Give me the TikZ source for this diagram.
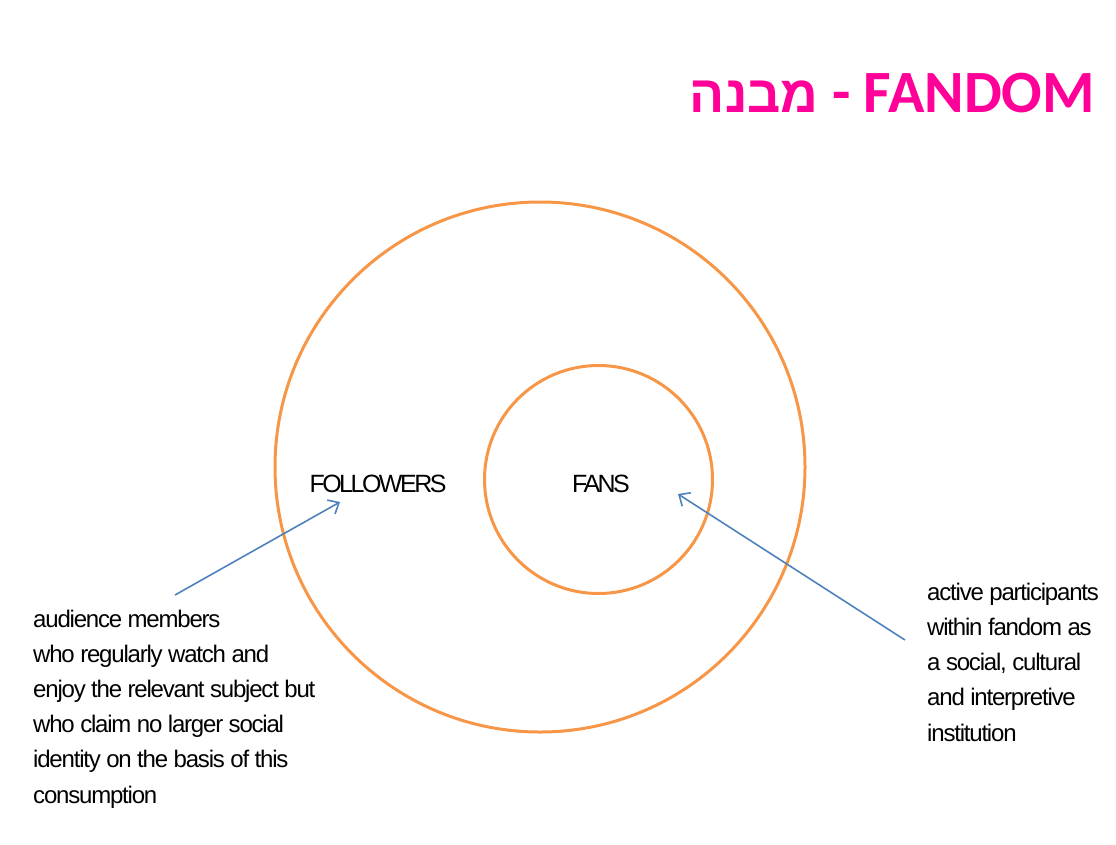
\documentclass[tikz,border=0pt]{standalone}
\usepackage{fontspec}
\setmainfont{Liberation Sans}[LetterSpace=-5]
\newfontfamily\labelfont{Liberation Sans}[LetterSpace=-10]
\newfontfamily\titlefont{Carlito}
\newfontfamily\hebfont[Script=Hebrew]{Liberation Sans}
\TeXXeTstate=1
\usetikzlibrary{positioning, arrows.meta}
\definecolor{ringorange}{HTML}{F79646}
\definecolor{pointblue}{HTML}{4F81BD}
\definecolor{titlepink}{HTML}{FF0099}
\tikzset{x=1pt,y=-1pt,
ring/.style={circle, draw=ringorange, line width=3pt, inner sep=0pt},
pointer/.style={-{Straight Barb[length=9pt,width=16pt]}, draw=pointblue, line width=1.6pt},
label/.style={inner sep=0pt, anchor=base, font=\labelfont\fontsize{25}{30}\selectfont},
note/.style={inner sep=0pt, align=left, anchor=base west, font=\fontsize{24}{35.2}\selectfont}}

\begin{document}
\begin{tikzpicture}
\useasboundingbox (0,0) rectangle (1116,844);
\node[anchor=base east, text=titlepink, inner sep=0pt, font=\fontsize{60}{72}\selectfont\bfseries] (title) at (1095,112)
  {{\hebfont\fontsize{52}{60}\selectfont\beginR מבנה\endR}\titlefont{} - FANDOM};
\node[ring, minimum size=530pt] (outer) at (540,467) {};
\node[ring, minimum size=228pt] (inner) at (598.5,479.5) {};
\node[label] (followers) at (378,492) {FOLLOWERS};
\node[label] (fans) at (601,492) {FANS};
% the base of a multi-line note is its last line
\node[note] (audience) at (33,803) {audience members\\who regularly watch and\\enjoy the relevant subject but\\who claim no larger social\\identity on the basis of this\\consumption};
\node[note] (active) at (927,741) {active participants\\within fandom as\\a social, cultural\\and interpretive\\institution};
\coordinate (audStart) at (175,595);
\coordinate (folTip) at (340,502);
\coordinate (actStart) at (905,640);
\coordinate (fanTip) at (678,494);
\draw[pointer] (audStart) -- (folTip);
\draw[pointer] (actStart) -- (fanTip);
\end{tikzpicture}
\end{document}
